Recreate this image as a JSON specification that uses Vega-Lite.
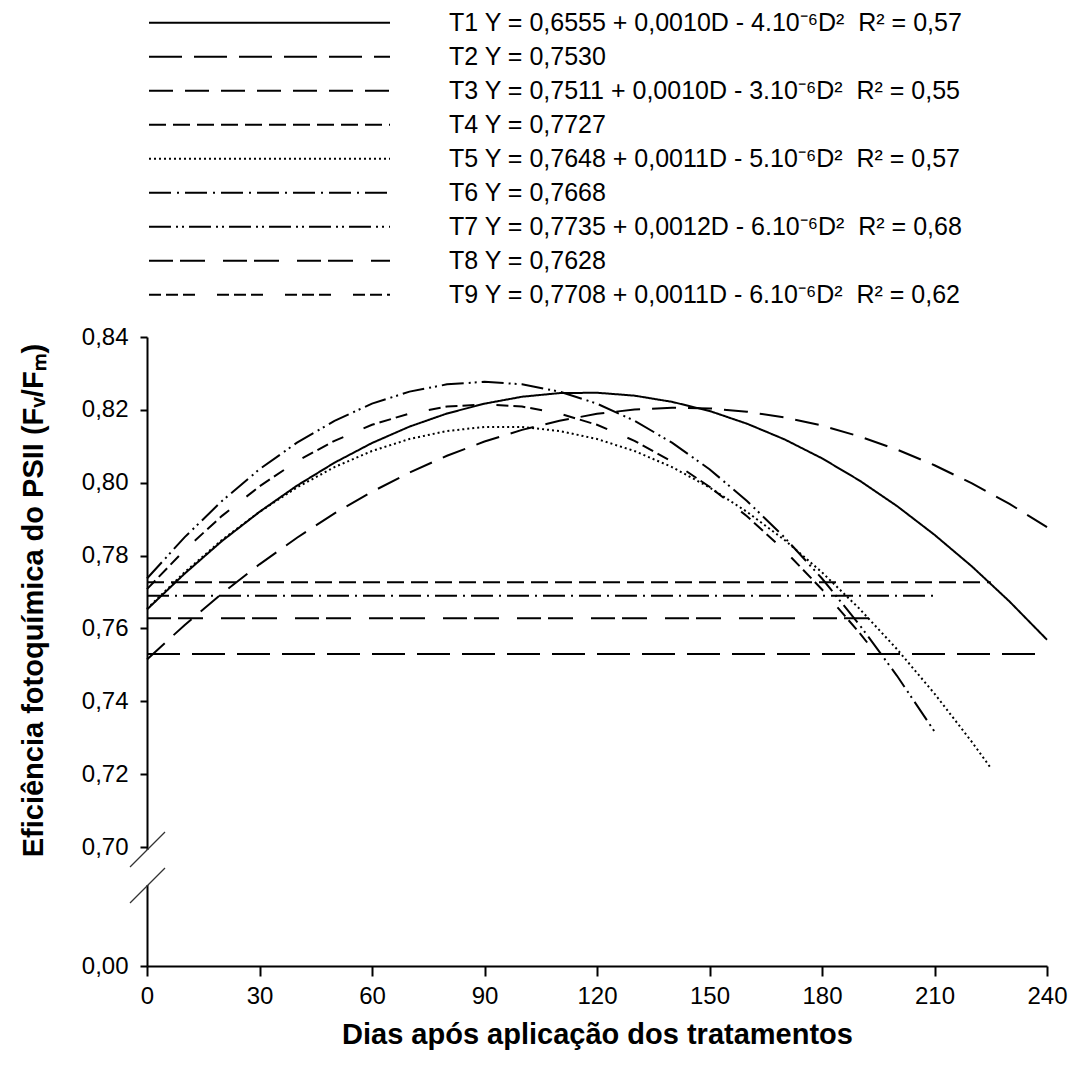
{
  "$schema": "https://vega.github.io/schema/vega-lite/v6.json",
  "width": 900,
  "height": 629,
  "autosize": {"type": "none"},
  "padding": {"left": 147, "top": 337, "right": 26, "bottom": 107},
  "background": "white",
  "config": {"view": {"stroke": null}, "font": "Liberation Sans"},
  "datasets": {
    "eq": [
      {"t": "T1", "label": "T1 Y = 0,6555 + 0,0010D - 4.10⁻⁶D²\u00a0 R² = 0,57"},
      {"t": "T2", "label": "T2 Y = 0,7530"},
      {"t": "T3", "label": "T3 Y = 0,7511 + 0,0010D - 3.10⁻⁶D²\u00a0 R² = 0,55"},
      {"t": "T4", "label": "T4 Y = 0,7727"},
      {"t": "T5", "label": "T5 Y = 0,7648 + 0,0011D - 5.10⁻⁶D²\u00a0 R² = 0,57"},
      {"t": "T6", "label": "T6 Y = 0,7668"},
      {"t": "T7", "label": "T7 Y = 0,7735 + 0,0012D - 6.10⁻⁶D²\u00a0 R² = 0,68"},
      {"t": "T8", "label": "T8 Y = 0,7628"},
      {"t": "T9", "label": "T9 Y = 0,7708 + 0,0011D - 6.10⁻⁶D²\u00a0 R² = 0,62"}
    ],
    "curves": [
      {"t": "T1", "D": 0, "v": 0.7652}, {"t": "T1", "D": 10, "v": 0.7750}, {"t": "T1", "D": 20, "v": 0.7840},
      {"t": "T1", "D": 30, "v": 0.7920}, {"t": "T1", "D": 40, "v": 0.7992}, {"t": "T1", "D": 50, "v": 0.8055},
      {"t": "T1", "D": 60, "v": 0.8109}, {"t": "T1", "D": 70, "v": 0.8154}, {"t": "T1", "D": 80, "v": 0.8190},
      {"t": "T1", "D": 90, "v": 0.8217}, {"t": "T1", "D": 100, "v": 0.8236}, {"t": "T1", "D": 110, "v": 0.8246},
      {"t": "T1", "D": 120, "v": 0.8247}, {"t": "T1", "D": 130, "v": 0.8239}, {"t": "T1", "D": 140, "v": 0.8222},
      {"t": "T1", "D": 150, "v": 0.8197}, {"t": "T1", "D": 160, "v": 0.8162}, {"t": "T1", "D": 170, "v": 0.8119},
      {"t": "T1", "D": 180, "v": 0.8067}, {"t": "T1", "D": 190, "v": 0.8006}, {"t": "T1", "D": 200, "v": 0.7936},
      {"t": "T1", "D": 210, "v": 0.7857}, {"t": "T1", "D": 220, "v": 0.7770}, {"t": "T1", "D": 230, "v": 0.7674},
      {"t": "T1", "D": 240, "v": 0.7569},
      {"t": "T2", "D": 0, "v": 0.7530}, {"t": "T2", "D": 240, "v": 0.7530},
      {"t": "T3", "D": 0, "v": 0.7515}, {"t": "T3", "D": 10, "v": 0.7609}, {"t": "T3", "D": 20, "v": 0.7696},
      {"t": "T3", "D": 30, "v": 0.7776}, {"t": "T3", "D": 40, "v": 0.7849}, {"t": "T3", "D": 50, "v": 0.7916},
      {"t": "T3", "D": 60, "v": 0.7975}, {"t": "T3", "D": 70, "v": 0.8028}, {"t": "T3", "D": 80, "v": 0.8074},
      {"t": "T3", "D": 90, "v": 0.8113}, {"t": "T3", "D": 100, "v": 0.8145}, {"t": "T3", "D": 110, "v": 0.8170},
      {"t": "T3", "D": 120, "v": 0.8189}, {"t": "T3", "D": 130, "v": 0.8201}, {"t": "T3", "D": 140, "v": 0.8206},
      {"t": "T3", "D": 150, "v": 0.8204}, {"t": "T3", "D": 160, "v": 0.8195}, {"t": "T3", "D": 170, "v": 0.8179},
      {"t": "T3", "D": 180, "v": 0.8157}, {"t": "T3", "D": 190, "v": 0.8127}, {"t": "T3", "D": 200, "v": 0.8091},
      {"t": "T3", "D": 210, "v": 0.8048}, {"t": "T3", "D": 220, "v": 0.7998}, {"t": "T3", "D": 230, "v": 0.7942},
      {"t": "T3", "D": 240, "v": 0.7878},
      {"t": "T4", "D": 0, "v": 0.7727}, {"t": "T4", "D": 225, "v": 0.7727},
      {"t": "T5", "D": 0, "v": 0.7654}, {"t": "T5", "D": 10, "v": 0.7754}, {"t": "T5", "D": 20, "v": 0.7843},
      {"t": "T5", "D": 30, "v": 0.7920}, {"t": "T5", "D": 40, "v": 0.7987}, {"t": "T5", "D": 50, "v": 0.8043},
      {"t": "T5", "D": 60, "v": 0.8087}, {"t": "T5", "D": 70, "v": 0.8120}, {"t": "T5", "D": 80, "v": 0.8142},
      {"t": "T5", "D": 90, "v": 0.8153}, {"t": "T5", "D": 100, "v": 0.8153}, {"t": "T5", "D": 110, "v": 0.8142},
      {"t": "T5", "D": 120, "v": 0.8120}, {"t": "T5", "D": 130, "v": 0.8087}, {"t": "T5", "D": 140, "v": 0.8043},
      {"t": "T5", "D": 150, "v": 0.7987}, {"t": "T5", "D": 160, "v": 0.7920}, {"t": "T5", "D": 170, "v": 0.7843},
      {"t": "T5", "D": 180, "v": 0.7754}, {"t": "T5", "D": 190, "v": 0.7654}, {"t": "T5", "D": 200, "v": 0.7543},
      {"t": "T5", "D": 210, "v": 0.7421}, {"t": "T5", "D": 220, "v": 0.7288}, {"t": "T5", "D": 225, "v": 0.7217},
      {"t": "T6", "D": 0, "v": 0.7690}, {"t": "T6", "D": 210, "v": 0.7690},
      {"t": "T7", "D": 0, "v": 0.7737}, {"t": "T7", "D": 10, "v": 0.7850}, {"t": "T7", "D": 20, "v": 0.7950},
      {"t": "T7", "D": 30, "v": 0.8037}, {"t": "T7", "D": 40, "v": 0.8110}, {"t": "T7", "D": 50, "v": 0.8170},
      {"t": "T7", "D": 60, "v": 0.8217}, {"t": "T7", "D": 70, "v": 0.8250}, {"t": "T7", "D": 80, "v": 0.8270},
      {"t": "T7", "D": 90, "v": 0.8277}, {"t": "T7", "D": 100, "v": 0.8270}, {"t": "T7", "D": 110, "v": 0.8250},
      {"t": "T7", "D": 120, "v": 0.8217}, {"t": "T7", "D": 130, "v": 0.8170}, {"t": "T7", "D": 140, "v": 0.8110},
      {"t": "T7", "D": 150, "v": 0.8037}, {"t": "T7", "D": 160, "v": 0.7950}, {"t": "T7", "D": 170, "v": 0.7850},
      {"t": "T7", "D": 180, "v": 0.7737}, {"t": "T7", "D": 190, "v": 0.7610}, {"t": "T7", "D": 200, "v": 0.7470},
      {"t": "T7", "D": 210, "v": 0.7317},
      {"t": "T8", "D": 0, "v": 0.7628}, {"t": "T8", "D": 195, "v": 0.7628},
      {"t": "T9", "D": 0, "v": 0.7708}, {"t": "T9", "D": 10, "v": 0.7815}, {"t": "T9", "D": 20, "v": 0.7909},
      {"t": "T9", "D": 30, "v": 0.7990}, {"t": "T9", "D": 40, "v": 0.8059}, {"t": "T9", "D": 50, "v": 0.8115},
      {"t": "T9", "D": 60, "v": 0.8159}, {"t": "T9", "D": 70, "v": 0.8190}, {"t": "T9", "D": 80, "v": 0.8209},
      {"t": "T9", "D": 90, "v": 0.8215}, {"t": "T9", "D": 100, "v": 0.8209}, {"t": "T9", "D": 110, "v": 0.8190},
      {"t": "T9", "D": 120, "v": 0.8159}, {"t": "T9", "D": 130, "v": 0.8115}, {"t": "T9", "D": 140, "v": 0.8058},
      {"t": "T9", "D": 150, "v": 0.7989}, {"t": "T9", "D": 160, "v": 0.7908}, {"t": "T9", "D": 170, "v": 0.7814},
      {"t": "T9", "D": 180, "v": 0.7707}, {"t": "T9", "D": 190, "v": 0.7588}, {"t": "T9", "D": 195, "v": 0.7523}
    ],
    "axisbreak": [
      {"x": -4.53, "x2": 4.8, "y": 0.5824, "y2": 0.7041},
      {"x": -4.53, "x2": 4.8, "y": 0.3706, "y2": 0.5765}
    ],
    "axisgap": [
      {"x": 0, "y": 0.4765, "y2": 0.6824}
    ]
  },
  "layer": [
    {
      "data": {"name": "curves"},
      "transform": [{"lookup": "t", "from": {"data": {"name": "eq"}, "key": "t", "fields": ["label"]}}],
      "mark": {"type": "line", "color": "black", "strokeWidth": 2},
      "encoding": {
        "x": {
          "field": "D", "type": "quantitative",
          "scale": {"domain": [0, 240], "nice": false, "zero": false},
          "axis": {
            "values": [0, 30, 60, 90, 120, 150, 180, 210, 240],
            "title": "Dias após aplicação dos tratamentos",
            "titleFont": "Liberation Sans", "titleFontSize": 29, "titleFontWeight": "bold", "titleColor": "black",
            "titleY": 77, "titleBaseline": "alphabetic",
            "labelFont": "Liberation Sans", "labelFontSize": 24, "labelColor": "black", "labelPadding": 8,
            "labelFlush": false, "labelOverlap": false,
            "tickSize": 10, "tickWidth": 2, "tickColor": "black",
            "domainColor": "black", "domainWidth": 2, "grid": false, "zindex": 0
          }
        },
        "y": {
          "field": "v", "type": "quantitative",
          "scale": {"domain": [0, 0.7, 0.84], "range": [629, 510, 0], "nice": false, "zero": false},
          "axis": {
            "values": [0, 0.7, 0.72, 0.74, 0.76, 0.78, 0.8, 0.82, 0.84],
            "labelExpr": "replace(format(datum.value, '.2f'), '.', ',')",
            "title": "Eficiência fotoquímica do PSII (Fᵥ/Fₘ)",
            "titleFont": "Liberation Sans", "titleFontSize": 29, "titleFontWeight": "bold", "titleColor": "black",
            "titleX": -114, "titleY": 263, "titleAngle": -90, "titleAlign": "center", "titleBaseline": "middle",
            "labelFont": "Liberation Sans", "labelFontSize": 24, "labelColor": "black", "labelPadding": 12,
            "labelFlush": false, "labelOverlap": false, "labelBaseline": "middle",
            "tickSize": 7, "tickWidth": 2, "tickColor": "black",
            "domainColor": "black", "domainWidth": 2, "grid": false, "zindex": 0
          }
        },
        "strokeDash": {
          "field": "label", "type": "nominal",
          "scale": {
            "domain": [
              "T1 Y = 0,6555 + 0,0010D - 4.10⁻⁶D²\u00a0 R² = 0,57",
              "T2 Y = 0,7530",
              "T3 Y = 0,7511 + 0,0010D - 3.10⁻⁶D²\u00a0 R² = 0,55",
              "T4 Y = 0,7727",
              "T5 Y = 0,7648 + 0,0011D - 5.10⁻⁶D²\u00a0 R² = 0,57",
              "T6 Y = 0,7668",
              "T7 Y = 0,7735 + 0,0012D - 6.10⁻⁶D²\u00a0 R² = 0,68",
              "T8 Y = 0,7628",
              "T9 Y = 0,7708 + 0,0011D - 6.10⁻⁶D²\u00a0 R² = 0,62"
            ],
            "range": [[1, 0], [33, 12], [24, 12], [17, 7], [2, 3], [22, 6, 2, 6], [22, 5, 2, 4, 2, 5], [24, 7, 25, 18], [12, 5, 12, 5, 12, 22]]
          },
          "legend": {
            "orient": "none", "legendX": 1, "legendY": -331, "direction": "vertical", "title": null,
            "symbolType": "stroke", "symbolSize": 58081, "symbolStrokeWidth": 2, "symbolStrokeColor": "black",
            "clipHeight": 33.4, "rowPadding": 0, "padding": 0, "offset": 0,
            "labelFont": "Liberation Sans", "labelFontSize": 25, "labelColor": "black", "labelOffset": 58, "labelLimit": 1000
          }
        },
        "order": {"field": "D", "type": "quantitative"}
      }
    },
    {
      "data": {"name": "axisgap"},
      "mark": {"type": "rule", "color": "white", "strokeWidth": 6},
      "encoding": {
        "x": {"field": "x", "type": "quantitative"},
        "y": {"field": "y", "type": "quantitative"},
        "y2": {"field": "y2"}
      }
    },
    {
      "data": {"name": "axisbreak"},
      "mark": {"type": "rule", "color": "#333333", "strokeWidth": 1.3},
      "encoding": {
        "x": {"field": "x", "type": "quantitative"},
        "x2": {"field": "x2"},
        "y": {"field": "y", "type": "quantitative"},
        "y2": {"field": "y2"}
      }
    }
  ]
}
